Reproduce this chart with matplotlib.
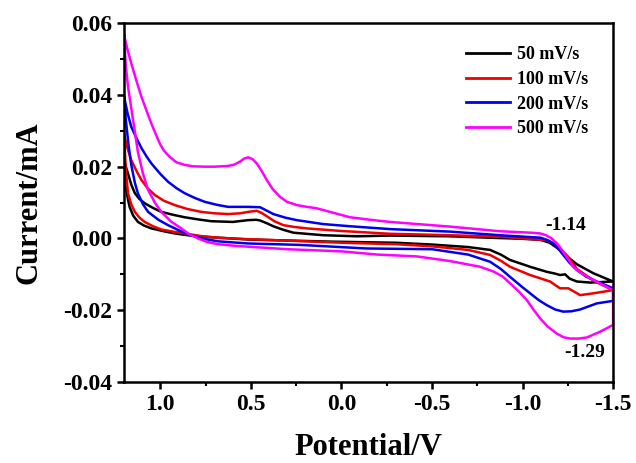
import matplotlib
matplotlib.use("Agg")
import matplotlib.pyplot as plt
from matplotlib.ticker import MultipleLocator

plt.rcParams['font.family'] = ['Liberation Serif', 'DejaVu Serif']
plt.rcParams['font.weight'] = 'bold'

labels = ["50 mV/s", "100 mV/s", "200 mV/s", "500 mV/s"]
colors = ["#000000", "#ee0000", "#0000ee", "#ff00ff"]

# ---- 50 mV/s ----
x50_up = [1.2, 1.19, 1.178, 1.16, 1.14, 1.115, 1.086, 1.04, 0.994, 0.93, 0.865, 0.79, 0.718, 0.6, 0.515, 0.47, 0.449, 0.41, 0.376, 0.32, 0.265, 0.1, -0.085, -0.27, -0.6, -0.82, -1.0, -1.1, -1.15, -1.19, -1.25, -1.3, -1.391, -1.5]
y50_up = [0.022, 0.020, 0.0181, 0.015, 0.0126, 0.011, 0.0098, 0.0085, 0.0074, 0.0066, 0.0059, 0.0053, 0.0048, 0.0046, 0.0051, 0.0052, 0.005, 0.0042, 0.0034, 0.0024, 0.0016, 0.0009, 0.0006, 0.0008, 0.0006, 0.0002, -0.0001, -0.0004, -0.0012, -0.0026, -0.0052, -0.0072, -0.0097, -0.012]
x50_dn = [1.2, 1.193, 1.187, 1.178, 1.169, 1.15, 1.123, 1.09, 1.049, 0.98, 0.92, 0.85, 0.773, 0.515, 0.046, -0.3, -0.5, -0.7, -0.821, -0.88, -0.931, -1.042, -1.134, -1.18, -1.207, -1.235, -1.26, -1.3, -1.373, -1.5]
y50_dn = [0.022, 0.017, 0.0135, 0.0108, 0.0088, 0.0064, 0.0046, 0.0036, 0.0028, 0.002, 0.0014, 0.0009, 0.0005, -0.0003, -0.0009, -0.0012, -0.0017, -0.0024, -0.0032, -0.0045, -0.006, -0.0079, -0.0093, -0.0098, -0.0102, -0.0100, -0.0112, -0.012, -0.0123, -0.012]

# ---- 100 mV/s ----
x100_up = [1.2, 1.18, 1.16, 1.13, 1.104, 1.07, 1.03, 0.98, 0.92, 0.85, 0.773, 0.7, 0.626, 0.56, 0.515, 0.467, 0.44, 0.412, 0.37, 0.32, 0.26, 0.191, 0.007, -0.269, -0.6, -0.9, -1.134, -1.189, -1.25, -1.3, -1.4, -1.5]
y100_up = [0.029, 0.025, 0.0218, 0.0187, 0.0163, 0.014, 0.0121, 0.0105, 0.0093, 0.0082, 0.0074, 0.007, 0.0068, 0.007, 0.0074, 0.0077, 0.0071, 0.0062, 0.0048, 0.0037, 0.0032, 0.0028, 0.0021, 0.0013, 0.0009, 0.0004, -0.0005, -0.0018, -0.005, -0.0085, -0.012, -0.0144]
x100_dn = [1.2, 1.19, 1.178, 1.16, 1.14, 1.115, 1.086, 1.04, 0.994, 0.93, 0.865, 0.78, 0.681, 0.515, 0.2, 0.0, -0.3, -0.5, -0.7, -0.821, -0.88, -0.931, -1.042, -1.152, -1.207, -1.253, -1.318, -1.39, -1.5]
y100_dn = [0.029, 0.019, 0.0126, 0.0095, 0.0074, 0.0058, 0.0046, 0.0034, 0.0025, 0.0019, 0.0014, 0.0007, 0.0002, -0.0002, -0.0008, -0.0012, -0.0016, -0.0022, -0.0032, -0.0046, -0.0062, -0.0079, -0.0102, -0.012, -0.0139, -0.0139, -0.0158, -0.0153, -0.0144]

# ---- 200 mV/s ----
x200_up = [1.2, 1.18, 1.16, 1.13, 1.104, 1.075, 1.049, 1.0, 0.957, 0.91, 0.865, 0.81, 0.754, 0.69, 0.626, 0.515, 0.449, 0.41, 0.376, 0.31, 0.246, 0.1, -0.048, -0.269, -0.6, -0.876, -1.1, -1.14, -1.17, -1.2, -1.225, -1.26, -1.3, -1.35, -1.41, -1.5]
y200_up = [0.0395, 0.0348, 0.0311, 0.0278, 0.0252, 0.0228, 0.0209, 0.018, 0.0158, 0.014, 0.0126, 0.0113, 0.0102, 0.0094, 0.0088, 0.0088, 0.0087, 0.0077, 0.0068, 0.0058, 0.0051, 0.004, 0.0034, 0.0026, 0.0019, 0.0009, 0.0002, -0.0005, -0.0014, -0.003, -0.0046, -0.0068, -0.0088, -0.0106, -0.012, -0.0139]
x200_dn = [1.2, 1.19, 1.175, 1.16, 1.14, 1.123, 1.095, 1.067, 1.01, 0.957, 0.89, 0.828, 0.76, 0.681, 0.515, 0.228, -0.14, -0.5, -0.7, -0.821, -0.88, -0.931, -0.99, -1.042, -1.09, -1.134, -1.18, -1.225, -1.27, -1.318, -1.41, -1.5]
y200_dn = [0.0395, 0.033, 0.026, 0.0205, 0.0155, 0.0125, 0.0095, 0.0074, 0.0052, 0.0037, 0.0021, 0.0009, -0.0001, -0.0008, -0.0014, -0.0018, -0.0028, -0.003, -0.0045, -0.0065, -0.0085, -0.0107, -0.0132, -0.0153, -0.0172, -0.0186, -0.0198, -0.0204, -0.0203, -0.0198, -0.0181, -0.0174]

# ---- 500 mV/s ----
x500_up = [1.2, 1.18, 1.16, 1.13, 1.104, 1.075, 1.049, 1.02, 1.0, 0.98, 0.957, 0.93, 0.91, 0.865, 0.82, 0.754, 0.70, 0.626, 0.59, 0.56, 0.535, 0.514, 0.49, 0.467, 0.44, 0.412, 0.38, 0.339, 0.30, 0.246, 0.19, 0.136, 0.063, -0.048, -0.176, -0.269, -0.6, -0.876, -1.05, -1.097, -1.13, -1.161, -1.19, -1.217, -1.25, -1.281, -1.32, -1.373, -1.465, -1.5]
y500_up = [0.0567, 0.0525, 0.0488, 0.0437, 0.0395, 0.0355, 0.032, 0.0285, 0.0262, 0.0245, 0.0232, 0.022, 0.0212, 0.0205, 0.0201, 0.020, 0.020, 0.0202, 0.0206, 0.0214, 0.0223, 0.0226, 0.0221, 0.0209, 0.0188, 0.0163, 0.0138, 0.0116, 0.0102, 0.0093, 0.0088, 0.0084, 0.0074, 0.0059, 0.0051, 0.0046, 0.0033, 0.002, 0.0016, 0.0014, 0.0009, 0.0, -0.0014, -0.0032, -0.0056, -0.0079, -0.0095, -0.0111, -0.0135, -0.0144]
x500_dn = [1.2, 1.19, 1.178, 1.15, 1.123, 1.095, 1.067, 1.03, 0.994, 0.94, 0.884, 0.84, 0.791, 0.74, 0.681, 0.6, 0.515, 0.3, 0.0, -0.2, -0.416, -0.6, -0.766, -0.839, -0.89, -0.931, -0.98, -1.024, -1.06, -1.097, -1.14, -1.189, -1.225, -1.262, -1.31, -1.355, -1.428, -1.5]
y500_dn = [0.0567, 0.048, 0.0423, 0.033, 0.024, 0.018, 0.0135, 0.01, 0.0074, 0.0047, 0.0028, 0.0012, 0.0, -0.001, -0.0016, -0.002, -0.0023, -0.003, -0.0036, -0.0045, -0.005, -0.0063, -0.0079, -0.0092, -0.0106, -0.0125, -0.0148, -0.0172, -0.0198, -0.0223, -0.0246, -0.0265, -0.0275, -0.0279, -0.0279, -0.0276, -0.026, -0.0241]

series = [
    (x50_up, y50_up, x50_dn, y50_dn),
    (x100_up, y100_up, x100_dn, y100_dn),
    (x200_up, y200_up, x200_dn, y200_dn),
    (x500_up, y500_up, x500_dn, y500_dn),
]

fig = plt.figure(figsize=(6.36, 4.63), dpi=100)
ax = fig.add_axes([0.195, 0.175, 0.769, 0.775])

for (xu, yu, xd, yd), c, lab in zip(series, colors, labels):
    xs = list(xu) + list(xd)[::-1]
    ys = list(yu) + list(yd)[::-1]
    ax.plot(xs, ys, color=c, lw=1.8, label=lab, solid_joinstyle='round')

ax.set_xlim(1.2, -1.5)
ax.set_ylim(-0.04, 0.06)
ax.xaxis.set_major_locator(MultipleLocator(0.5))
ax.xaxis.set_minor_locator(MultipleLocator(0.25))
ax.yaxis.set_major_locator(MultipleLocator(0.02))
ax.yaxis.set_minor_locator(MultipleLocator(0.01))
ax.xaxis.set_major_formatter(plt.FuncFormatter(lambda v, p: f"{v:.1f}"))
ax.yaxis.set_major_formatter(plt.FuncFormatter(lambda v, p: f"{v:.2f}"))

for s in ax.spines.values():
    s.set_linewidth(1.8)
ax.tick_params(which='major', direction='out', length=5, width=1.8, labelsize=17)
ax.tick_params(which='minor', direction='out', length=3, width=1.5)
for lbl in ax.get_xticklabels() + ax.get_yticklabels():
    lbl.set_fontweight('bold')

ax.set_xlabel("Potential/V", fontsize=22, fontweight='bold', labelpad=13)
ax.set_ylabel("Current/mA", fontsize=22, fontweight='bold', labelpad=14)

ax.text(-1.24, 0.0037, "-1.14", fontsize=14, fontweight='bold', ha='center', va='center')
ax.text(-1.345, -0.0317, "-1.29", fontsize=14, fontweight='bold', ha='center', va='center')

leg = ax.legend(loc='upper left', bbox_to_anchor=(0.70, 0.935), frameon=False,
                fontsize=13, handlelength=2.4, handletextpad=0.4, labelspacing=0.42,
                borderpad=0, borderaxespad=0)
for t in leg.get_texts():
    t.set_fontweight('bold')
for l in leg.get_lines():
    l.set_linewidth(2.0)

fig.savefig("out.png", dpi=100)
